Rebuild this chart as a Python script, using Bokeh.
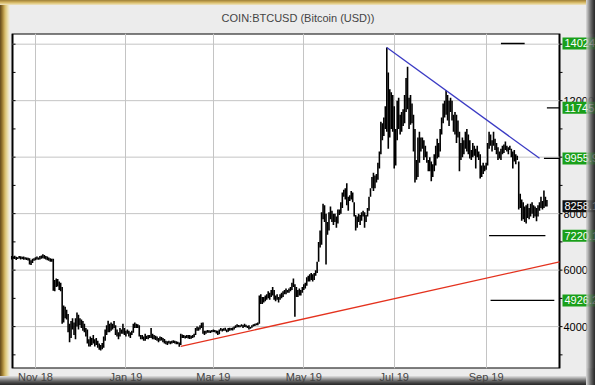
import pandas as pd
from bokeh.plotting import figure
from bokeh.models import Range1d, FixedTicker
from bokeh.core.properties import value
from bokeh.embed import file_html
from bokeh.resources import INLINE

# ---------------- data ----------------
start_date = "2018-10-16"
highs = [
    6500, 6480, 6510, 6470, 6460, 6500, 6490, 6470, 6480, 6460,
    6450, 6440, 6420, 6350, 6400, 6420, 6460, 6480, 6450, 6500,
    6520, 6560, 6540, 6500, 6480, 6450, 6420, 6400, 6400, 5650,
    5700, 5690, 5600, 5550, 5400, 4750, 4700, 4600, 4450, 4100,
    4200, 4300, 4150, 4300, 4500, 4420, 4300, 4250, 4200, 4100,
    3950, 3900, 3550, 3650, 3600, 3700, 3550, 3600, 3500, 3400,
    3350, 3420, 3650, 3900, 4050, 4210, 4100, 4150, 4100, 4200,
    4050, 3900, 3800, 3950, 3900, 4100, 3950, 3850, 3900, 3850,
    3800, 3850, 4100, 4150, 4100, 4080, 4050, 3700, 3700, 3650,
    3750, 3680, 3700, 3700, 3950, 3750, 3700, 3680, 3650, 3600,
    3650, 3630, 3600, 3560, 3500, 3480, 3500, 3480, 3500, 3520,
    3500, 3480, 3460, 3440, 3750, 3720, 3700, 3680, 3700, 3700,
    3700, 3680, 3700, 3750, 3950, 4000, 3980, 4050, 4140, 4150,
    3850, 3850, 3880, 3870, 3860, 3880, 3900, 3880, 3860, 3850,
    3900, 3950, 3920, 3940, 3960, 3900, 3950, 3960, 3950, 3970,
    4000, 4050, 4080, 4060, 4050, 4080, 4060, 4100, 4070, 4030,
    4050, 3990, 4050, 4080, 4100, 4120, 4150, 5100, 5150, 5050,
    5050, 5100, 5150, 5250, 5200, 5300, 5400, 5300, 5100, 5150,
    5050, 5150, 5200, 5250, 5300, 5350, 5300, 5350, 5400, 5550,
    5700, 5500, 5400, 5300, 5350, 5300, 5400, 5500, 5550, 5750,
    5800, 5850, 5900, 5850, 5900, 6000, 6300, 7000, 7400, 8050,
    8350, 8300, 8000, 7700, 8050, 8250, 8100, 8000, 8000, 7900,
    8150, 8150, 8400, 8750, 8850, 8900, 9080, 8600, 8650, 8800,
    8750, 8400, 7950, 7900, 8000, 7950, 8050, 8100, 8050, 7950,
    8200, 8600, 8900, 9300, 9450, 9350, 9400, 9800, 10200, 11250,
    11200, 11400, 11800, 13880, 13000, 12400, 12300, 12200, 11800, 11000,
    12000, 12100, 11500, 11600, 11700, 12200, 12800, 13200, 12100, 12200,
    11900, 11500, 11000, 9900, 10700, 10900, 10700, 10700, 10600, 10400,
    10200, 9900, 10000, 9850, 9750, 10100, 10400, 10650, 10500, 11000,
    11400, 11900, 12000, 12380, 12200, 12000, 12100, 12000, 11500, 11600,
    11500, 11300, 10900, 10500, 10700, 10600, 10900, 11000, 10800, 10600,
    10250, 10500, 10400, 10300, 10400, 10200, 10100, 9700, 9800, 9700,
    9800, 10500, 10900, 10800, 10600, 10900, 10650, 10500, 10350, 10200,
    10300, 10400, 10450, 10550, 10400, 10350, 10400, 10300, 10200, 10250,
    10100, 10050, 9850, 8700, 8500, 8400, 8250, 8300, 8350, 8200,
    8350, 8400, 8300, 8250, 8200, 8300, 8400, 8600, 8450, 8820,
    8600, 8480,
]
lows = [
    6380, 6400, 6390, 6360, 6390, 6410, 6380, 6390, 6370, 6380,
    6360, 6340, 6200, 6180, 6250, 6330, 6350, 6380, 6370, 6380,
    6400, 6420, 6400, 6380, 6350, 6330, 6300, 6300, 5270, 5250,
    5400, 5420, 5300, 5250, 4100, 4150, 4300, 4250, 3800, 3450,
    3600, 3900, 3700, 3550, 4000, 3900, 4050, 3950, 3850, 3800,
    3650, 3400, 3300, 3300, 3350, 3400, 3300, 3350, 3250, 3180,
    3150, 3200, 3250, 3500, 3700, 3800, 3800, 3850, 3900, 3950,
    3700, 3650, 3550, 3650, 3750, 3750, 3700, 3650, 3750, 3650,
    3600, 3700, 3780, 3950, 3950, 3950, 3650, 3550, 3550, 3500,
    3500, 3560, 3550, 3600, 3600, 3550, 3550, 3530, 3500, 3450,
    3500, 3510, 3450, 3400, 3380, 3350, 3400, 3380, 3400, 3420,
    3400, 3380, 3380, 3290, 3350, 3600, 3600, 3580, 3600, 3580,
    3560, 3570, 3600, 3620, 3700, 3850, 3850, 3900, 3950, 3750,
    3700, 3750, 3780, 3780, 3770, 3800, 3810, 3800, 3760, 3700,
    3730, 3850, 3830, 3850, 3850, 3800, 3820, 3850, 3870, 3860,
    3900, 3950, 3980, 3980, 3980, 4000, 3950, 3990, 3980, 3950,
    3900, 3920, 3960, 4000, 4020, 4050, 4050, 4100, 4800, 4800,
    4850, 4900, 4950, 5000, 4950, 5050, 5100, 4950, 4900, 4950,
    4850, 4950, 5000, 5050, 5150, 5150, 5200, 5200, 5250, 5300,
    5400, 4350, 5050, 5050, 5100, 5100, 5200, 5300, 5350, 5450,
    5600, 5600, 5650, 5600, 5650, 5800, 5900, 6300, 6800, 6900,
    7800, 7700, 6200, 7250, 7400, 7800, 7700, 7600, 7700, 7500,
    7650, 7950, 8000, 8200, 8600, 8500, 8300, 8100, 8450, 8500,
    8400, 7900, 7400, 7500, 7700, 7600, 7750, 7900, 7500, 7700,
    7900, 8100, 8600, 8900, 8800, 8900, 9100, 9200, 9600, 10100,
    10600, 10750, 11000, 10900, 10300, 10700, 11000, 10900, 9600, 9700,
    10600, 11000, 10800, 10900, 11100, 11200, 11600, 11700, 11000, 11150,
    11200, 10200, 9100, 9200, 9300, 9800, 10200, 10300, 9900, 10000,
    9800, 9500, 9500, 9150, 9300, 9500, 9700, 9950, 10000, 10200,
    10800, 11200, 11400, 11500, 11300, 11100, 11600, 11300, 10900, 10800,
    10500, 10700, 9500, 9900, 10000, 10100, 10300, 10200, 10100, 9950,
    9900, 10000, 10050, 9600, 10000, 9900, 9240, 9300, 9400, 9500,
    9550, 9700, 10300, 10400, 10200, 10400, 10250, 10100, 9900, 9950,
    9900, 10100, 10150, 10250, 10200, 10100, 10250, 10000, 9600, 9850,
    9750, 9900, 8150, 8200, 7750, 7800, 7700, 7650, 7850, 7800,
    7900, 8000, 7850, 7900, 7730, 7900, 8100, 8200, 8150, 8200,
    8250, 8250,
]

tick_dates = ["2018-11-01", "2019-01-01", "2019-03-01", "2019-05-01", "2019-07-01", "2019-09-01"]
tick_labels = ["Nov 18", "Jan 19", "Mar 19", "May 19", "Jul 19", "Sep 19"]

y_major = [4000, 6000, 8000, 10000, 12000, 14000]
y_minor = [3000, 5000, 7000, 9000, 11000, 13000]
y_label_values = [4000, 6000, 8000, 12000]
y_label_texts = ["4000", "6000", "8000", "12000"]

level_values = [14024, 11745, 9955.9, 7220.1, 4926.2]
level_starts = ["2019-09-11", "2019-10-12", "2019-10-10", "2019-09-03", "2019-09-04"]
level_ends = ["2019-09-27", "2019-10-20 12:00", "2019-10-20 12:00", "2019-10-11", "2019-10-17"]

blue_dates = ["2019-06-26", "2019-10-07"]
blue_values = [13880, 9960]
red_dates = ["2019-02-07", "2019-10-20 12:00"]
red_values = [3300, 6294]

box_values = [14024, 11745, 9955.9, 8258.1, 7220.1, 4926.2]
box_texts = ["14024", "11745", "9955.9", "8258.1", "7220.1", "4926.2"]
box_colors = ["#1a9f1a", "#1a9f1a", "#1a9f1a", "#111111", "#1a9f1a", "#1a9f1a"]

title_text = "COIN:BTCUSD (Bitcoin (USD))"


def ts(seq):
    return [pd.Timestamp(s) for s in seq]


# ---------------- layout ----------------
FONT = "Liberation Sans"
W, H = 595, 385
chart_start = pd.Timestamp("2018-10-16 12:00")
chart_end = pd.Timestamp("2019-10-20 12:00")
y_lo, y_hi = 2517, 14378
CH_LEFT, CH_RIGHT = 12, 559          # chart edges in canvas pixels
day = pd.Timedelta(days=1)
px_day = (CH_RIGHT - CH_LEFT) / ((chart_end - chart_start) / day)
x_lo = chart_start - day * (CH_LEFT / px_day)
x_hi = chart_end + day * ((W - CH_RIGHT) / px_day)

# bevel colours (outermost first)
left_cols = ["#6e5420", "#866828", "#9e8036", "#b89848", "#ccb060", "#dac478",
             "#e2d090", "#e8dcaa", "#ece4c4", "#eeeadc"]
top_cols = ["#a88a40", "#c0a050", "#d4b868", "#e2cc88", "#eadcb0"]
right_cols = ["#2e2e2e", "#3c3c3c", "#4c4c4c", "#5e5e5e", "#727272", "#888888",
              "#a0a0a0", "#b8b8b8", "#d0d0d0"]
bottom_cols = ["#2e2e2e", "#3a3a3a", "#4a4a4a", "#5c5c5c", "#707070", "#888888",
               "#a2a2a2", "#bcbcbc", "#d4d4d4"]
shadows = []
shadows += [f"inset -{i + 1}px 0 0 0 {c}" for i, c in enumerate(right_cols)]
shadows += [f"inset 0 -{i + 1}px 0 0 {c}" for i, c in enumerate(bottom_cols)]
shadows += [f"inset 0 {i + 1}px 0 0 {c}" for i, c in enumerate(top_cols)]
shadows += [f"inset {i + 1}px 0 0 0 {c}" for i, c in enumerate(left_cols)]

p = figure(width=W, height=H, output_backend="svg", toolbar_location=None,
           x_axis_type="datetime", y_axis_location=None,
           x_range=Range1d(x_lo, x_hi), y_range=Range1d(y_lo, y_hi),
           min_border_left=0, min_border_right=0, min_border_top=32, min_border_bottom=17)

p.background_fill_color = None
p.border_fill_color = None
p.outline_line_color = None
p.ygrid.visible = False
p.styles = {"vertical-align": "top", "background": "#ececec",
            "box-shadow": ", ".join(shadows)}

p.title.text = title_text
p.title.align = "center"
p.title.text_font = FONT
p.title.text_font_size = "11px"
p.title.text_font_style = "normal"
p.title.standoff = 19

# x axis
tick_ms = [int(pd.Timestamp(d).value // 10**6) for d in tick_dates]
xa = p.xaxis[0]
xa.ticker = FixedTicker(ticks=tick_ms)
xa.major_label_overrides = dict(zip(tick_ms, tick_labels))
xa.major_label_text_font = FONT
xa.major_label_text_font_size = "11px"
xa.major_label_standoff = 2
xa.major_tick_out = 0
xa.major_tick_in = 0
xa.minor_tick_line_color = None
xa.axis_line_color = None
p.xgrid.grid_line_color = "#c4c4c4"

# chart panel (white, black outline)
p.quad(left=[chart_start], right=[chart_end], bottom=[y_lo], top=[y_hi],
       fill_color="white", line_color="black", line_width=2, level="image")

# horizontal grid lines
p.segment(x0=[chart_start] * len(y_major), x1=[chart_end] * len(y_major),
          y0=y_major, y1=y_major, line_color="#c4c4c4", line_width=1, level="underlay")

# ticks: left inward, right outward
all_ticks = sorted(y_major + y_minor)
p.ray(x=[chart_start] * len(all_ticks), y=all_ticks, length=3, length_units="screen",
      angle=0, line_color="black", line_width=1)
p.ray(x=[chart_end] * len(all_ticks), y=all_ticks, length=3, length_units="screen",
      angle=0, line_color="black", line_width=1)

# right tick labels
p.text(x=[chart_end] * len(y_label_values), y=y_label_values, text=y_label_texts,
       x_offset=4, text_font=value(FONT), text_font_size="11px", text_color="black",
       text_align="left", text_baseline="middle")

# OHLC bars
dates = pd.date_range(start_date, periods=len(highs), freq="D")
p.segment(x0=dates, y0=lows, x1=dates, y1=highs, line_color="black", line_width=1.6)

# level lines
p.segment(x0=ts(level_starts), x1=ts(level_ends),
          y0=level_values, y1=level_values, line_color="black", line_width=1.3)

# trend lines
p.line(ts(blue_dates), blue_values, line_color="#3b3bc4", line_width=1.3)
p.line(ts(red_dates), red_values, line_color="#e4321e", line_width=1.3)

# value boxes
p.text(x=[chart_end] * len(box_values), y=box_values, text=box_texts,
       x_offset=3, text_font=value(FONT), text_font_size="11px", text_color="white",
       text_align="left", text_baseline="middle",
       background_fill_color=box_colors, padding=2)

# right bevel drawn again over the value boxes
n = len(right_cols)
for i, c in enumerate(reversed(right_cols)):
    l = x_hi - day * ((n - i) / px_day)
    p.quad(left=[l], right=[l + day / px_day], bottom=[y_lo], top=[y_hi],
           fill_color=c, line_color=None)

open("out.html", "w").write(file_html(p, INLINE))
